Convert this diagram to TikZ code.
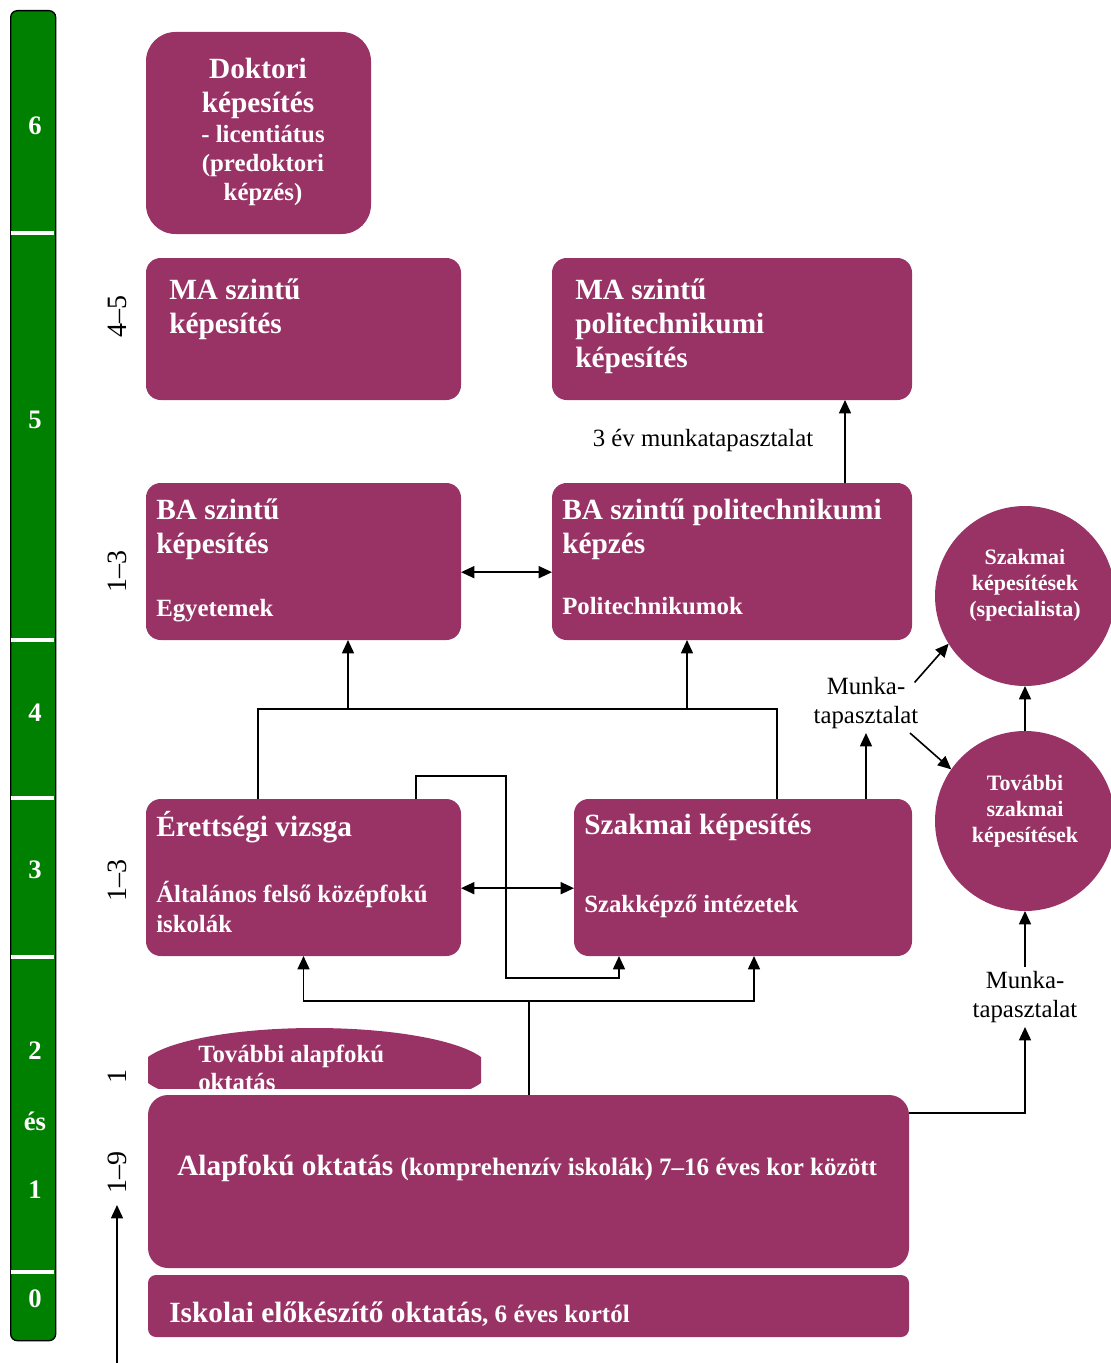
\documentclass[tikz,border=0pt]{standalone}
\usepackage{fontspec}
\setmainfont{Liberation Serif}
\usetikzlibrary{arrows.meta,positioning}
\definecolor{boxred}{RGB}{153,51,102}
\definecolor{bargreen}{RGB}{0,128,0}

\begin{document}
\begin{tikzpicture}[x=0.75pt,y=-0.75pt,
  >={Triangle[length=10pt,width=9pt]},
  conn/.style={line width=1.2pt},
  blk/.style={fill=boxred,rounded corners=11pt,inner sep=0pt,outer sep=0pt,anchor=north west},
  circ/.style={circle,fill=boxred,minimum size=135pt,inner sep=0pt,outer sep=0pt},
  ctext/.style={text=white,font=\bfseries\fontsize{16.5}{19.5}\selectfont,align=center,inner sep=0pt},
  head/.style={text=white,font=\bfseries\fontsize{22}{25.5}\selectfont,anchor=west,inner sep=0pt,align=left},
  sub/.style={text=white,font=\bfseries\fontsize{18.6}{22.5}\selectfont,anchor=west,inner sep=0pt,align=left},
  lbl/.style={font=\fontsize{18.6}{21.75}\selectfont,align=center,inner sep=3pt},
  yrs/.style={font=\fontsize{21}{24}\selectfont,rotate=90,inner sep=0pt},
  lvl/.style={text=white,font=\bfseries\fontsize{20}{24}\selectfont}]
\useasboundingbox (0,0) rectangle (1110,1363);

% level bar
\node[draw,fill=bargreen,line width=1pt,rounded corners=5pt,minimum width=33.75pt,
  minimum height=997.5pt,inner sep=0pt,anchor=north west] (bar) at (10,10) {};
\foreach \yy in {233,640,798,957,1272}
  \draw[white,line width=3pt] (10.7,\yy) -- (54.3,\yy);
\foreach \yy/\lab [count=\i] in {126/6,420/5,713/4,870/3,1051/2,1121/és,1190/1,1299/0}
  \node[lvl] (lvl\i) at (35,\yy) {\lab};

% years
\node[yrs] (ymaa) at (117,316) {4--5};
\node[yrs] (yba) at (117,571) {1--3};
\node[yrs] (ysec) at (117,880) {1--3};
\node[yrs] (yadd) at (117,1076) {1};
\node[yrs] (ybasic) at (117,1172) {1--9};
\coordinate (agestart) at (117,1363);
\coordinate (agetip) at (117,1205);
\draw[conn,->] (agestart) -- (agetip);

% boxes
\node[blk,rounded corners=22pt,minimum width=168.75pt,minimum height=151.5pt] (dok) at (146,32) {};
\node[blk,minimum width=236.25pt,minimum height=106.5pt] (ma) at (146,258) {};
\node[blk,minimum width=270pt,minimum height=106.5pt] (mapol) at (552,258) {};
\node[blk,minimum width=236.25pt,minimum height=117.75pt] (ba) at (146,483) {};
\node[blk,minimum width=270pt,minimum height=117.75pt] (bapol) at (552,483) {};
\node[blk,minimum width=236.25pt,minimum height=117.75pt] (eret) at (146,799) {};
\node[blk,minimum width=253.5pt,minimum height=117.75pt] (szak) at (574,799) {};
\node[blk,rounded corners=15pt,minimum width=570.75pt,minimum height=129.75pt] (alap) at (148,1095) {};
\node[blk,rounded corners=6pt,minimum width=570.75pt,minimum height=46.5pt] (isk) at (148,1275) {};
\node[circ] (spec) at (1025,596) {};
\node[circ] (tovszak) at (1025,821) {};
\begin{scope}
  \clip (148,1000) rectangle (481,1088);
  \fill[boxred] (314.5,1070) ellipse [x radius=175,y radius=42];
\end{scope}

% texts
\node[text=white,font=\bfseries\fontsize{22}{25.5}\selectfont,align=center,inner sep=0pt]
  (doktitle) at (258,88) {Doktori\\képesítés};
\node[text=white,font=\bfseries\fontsize{18.6}{21.75}\selectfont,align=center,inner sep=0pt]
  (doksub) at (263,166) {- licentiátus\\(predoktori\\képzés)};
\node[head] (matxt) at (169,309.5) {MA szintű\\képesítés};
\node[head] (mapoltxt) at (575,326.5) {MA szintű\\politechnikumi\\képesítés};
\node[head] (batxt) at (156,529) {BA szintű\\képesítés};
\node[sub] (bainst) at (156,611) {Egyetemek};
\node[head] (bapoltxt) at (562,529) {BA szintű politechnikumi\\képzés};
\node[sub] (bapolinst) at (562,606) {Politechnikumok};
\node[head] (erettxt) at (156,827) {Érettségi vizsga};
\node[sub] (eretinst) at (156,907) {Általános felső középfokú\\iskolák};
\node[head] (szaktxt) at (584,827) {Szakmai képesítés};
\node[sub] (szakinst) at (584,906) {Szakképző intézetek};
\node[sub,font=\bfseries\fontsize{18.6}{21}\selectfont] (tovalaptxt) at (198,1068) {További alapfokú\\oktatás};
\node[head] (alaptxt) at (177,1168) {Alapfokú oktatás {\fontsize{18.8}{22}\selectfont(komprehenzív iskolák) 7--16 éves kor között}};
\node[head] (isktxt) at (169,1314) {Iskolai előkészítő oktatás{\fontsize{18.8}{22}\selectfont, 6 éves kortól}};
\node[ctext] (spectxt) at ([yshift=8pt]spec) {Szakmai\\képesítések\\(specialista)};
\node[ctext] (tovszaktxt) at ([yshift=7pt]tovszak) {További\\szakmai\\képesítések};

% labels
\node[lbl] (munkaev) at (703,441) {3 év munkatapasztalat};
\node[lbl] (munka1) at (866,703) {Munka-\\tapasztalat};
\node[lbl] (munka2) at (1025,997) {Munka-\\tapasztalat};

% connectors
\draw[conn,<->] ([yshift=-8pt]ba.east) -- ([yshift=-8pt]bapol.west);
\draw[conn,<->] ([yshift=-8pt]eret.east) -- ([yshift=-8pt]szak.west);
\draw[conn,->] ([xshift=84.75pt]bapol.north) -- ([xshift=84.75pt]mapol.south);

\coordinate (jl) at (258,709);
\coordinate (jr) at (777,709);
\coordinate (jba) at (348,709);
\coordinate (jbp) at (687,709);
\draw[conn] (eret.north -| jl) -- (jl) -- (jr) -- (szak.north -| jr);
\draw[conn,->] (jba) -- (jba |- ba.south);
\draw[conn,->] (jbp) -- (jbp |- bapol.south);

\coordinate (ka) at (416,776);
\coordinate (kb) at (506,978);
\coordinate (kc) at (619,978);
\draw[conn,->] (eret.north -| ka) -- (ka) -| (kb) -- (kc) -- (kc |- szak.south);

\coordinate (ja) at (529,1001);
\draw[conn] (alap.north -| ja) -- (ja);
\draw[conn,->] (ja) -| (eret.south);
\draw[conn,->] (ja) -| ([xshift=8.25pt]szak.south);

\draw[conn,->] (szak.north -| munka1) -- (munka1.south);
\draw[conn,->] ([xshift=-6pt]munka1.20) -- (spec.212);
\draw[conn,->] ([xshift=-6pt]munka1.-30) -- (tovszak.145);
\draw[conn,->] (tovszak.north) -- (spec.south);
\draw[conn,->] ([yshift=-13.5pt]alap.north east) -| (munka2.south);
\draw[conn,->] (munka2.north) -- (tovszak.south);
\end{tikzpicture}
\end{document}
